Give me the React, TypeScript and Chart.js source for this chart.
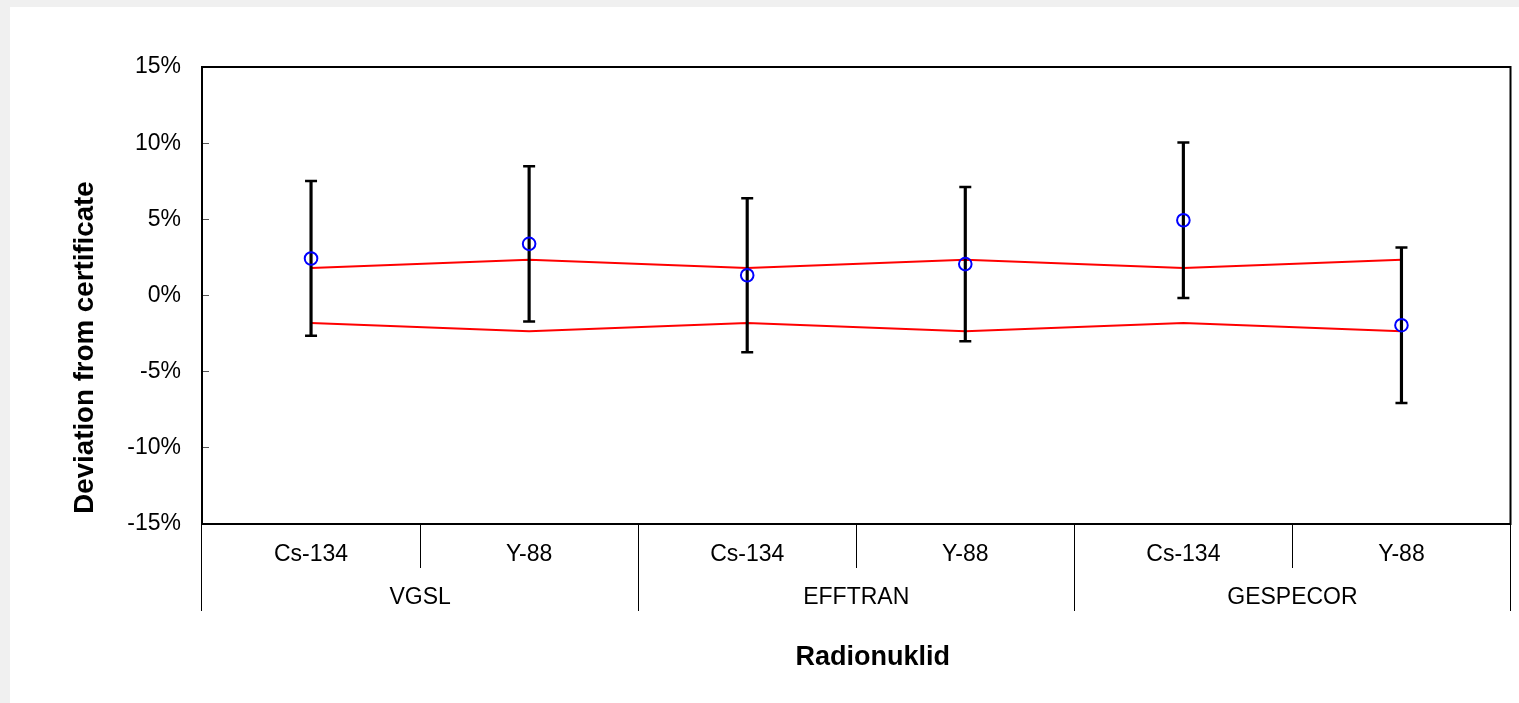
import React, { useEffect, useRef } from 'react';
import { Chart, registerables } from 'chart.js';

Chart.register(...registerables);

// ---- data ----
const methods = ['VGSL', 'EFFTRAN', 'GESPECOR'];
const nuclides = ['Cs-134', 'Y-88', 'Cs-134', 'Y-88', 'Cs-134', 'Y-88'];
const deviation = [2.43, 3.39, 1.33, 2.06, 4.94, -1.95];
const uncertainty = [5.08, 5.1, 5.06, 5.07, 5.1, 5.1];
const limitUpper = [1.8, 2.35, 1.8, 2.35, 1.8, 2.35];
const limitLower = [-1.8, -2.35, -1.8, -2.35, -1.8, -2.35];
const yMin = -15;
const yMax = 15;
const yStep = 5;
const yTitle = 'Deviation from certificate';
const xTitle = 'Radionuklid';

const FONT = '"Liberation Sans", Arial, Helvetica, sans-serif';

const framePlugin = {
  id: 'frameAndTitles',
  afterDraw(chart: any) {
    const { ctx, chartArea: a } = chart;
    ctx.save();
    ctx.strokeStyle = '#000';
    ctx.lineWidth = 2;
    ctx.strokeRect(a.left, a.top, a.right - a.left, a.bottom - a.top);
    ctx.fillStyle = '#000';
    ctx.textAlign = 'center';
    ctx.textBaseline = 'alphabetic';
    ctx.font = `bold 27px ${FONT}`;
    ctx.fillText(xTitle, (a.left + a.right) / 2 + 16.5, a.bottom + 141);
    ctx.font = `bold 27.7px ${FONT}`;
    ctx.translate(a.left - 108.7, (a.top + a.bottom) / 2 + 52);
    ctx.rotate(-Math.PI / 2);
    ctx.fillText(yTitle, 0, 0);
    ctx.restore();
  },
};

export default function App() {
  const ref = useRef<HTMLCanvasElement | null>(null);

  useEffect(() => {
    if (!ref.current) return;
    Chart.defaults.font.family = FONT;
    Chart.defaults.color = '#000';

    const bars = deviation.map((v, i) => [v - uncertainty[i], v + uncertainty[i]]);
    const highs = deviation.map((v, i) => v + uncertainty[i]);
    const lows = deviation.map((v, i) => v - uncertainty[i]);

    const chart = new Chart(ref.current, {
      type: 'bar',
      data: {
        labels: nuclides,
        datasets: [
          {
            type: 'line',
            data: limitUpper,
            xAxisID: 'x',
            borderColor: '#ff0000',
            borderWidth: 2,
            pointRadius: 0,
            tension: 0,
            fill: false,
            order: 5,
          } as any,
          {
            type: 'line',
            data: limitLower,
            xAxisID: 'x',
            borderColor: '#ff0000',
            borderWidth: 2,
            pointRadius: 0,
            tension: 0,
            fill: false,
            order: 5,
          } as any,
          {
            type: 'bar',
            data: bars,
            xAxisID: 'x',
            backgroundColor: '#000',
            borderWidth: 0,
            barThickness: 2.5,
            grouped: false,
            order: 4,
          } as any,
          {
            type: 'line',
            data: highs,
            xAxisID: 'x',
            showLine: false,
            pointStyle: 'line',
            pointRadius: 6,
            pointBorderColor: '#000',
            pointBorderWidth: 2.5,
            order: 3,
          } as any,
          {
            type: 'line',
            data: lows,
            xAxisID: 'x',
            showLine: false,
            pointStyle: 'line',
            pointRadius: 6,
            pointBorderColor: '#000',
            pointBorderWidth: 2.5,
            order: 3,
          } as any,
          {
            type: 'line',
            data: deviation,
            xAxisID: 'x',
            showLine: false,
            pointStyle: 'circle',
            pointRadius: 6.3,
            pointBorderColor: '#0000ff',
            pointBackgroundColor: 'rgba(0,0,0,0)',
            pointBorderWidth: 2,
            order: 1,
          } as any,
        ],
      },
      options: {
        responsive: false,
        animation: false,
        events: [],
        layout: { padding: { top: 60, right: 8, bottom: 92, left: 0 } },
        plugins: {
          legend: { display: false },
          tooltip: { enabled: false },
          title: { display: false },
        },
        scales: {
          x: {
            type: 'category',
            position: 'bottom',
            offset: true,
            weight: 0,
            grid: {
              offset: true,
              drawOnChartArea: false,
              drawTicks: true,
              tickLength: 44,
              color: '#000',
              tickColor: '#000',
              lineWidth: 1,
            },
            border: { display: false },
            ticks: {
              font: { size: 23 },
              color: '#000',
              padding: -27,
              autoSkip: false,
              maxRotation: 0,
              minRotation: 0,
            },
            afterFit: (s: any) => {
              s.height = 44;
            },
          },
          x2: {
            type: 'category',
            labels: methods,
            position: 'bottom',
            offset: true,
            bounds: 'ticks',
            weight: 1,
            grid: {
              offset: true,
              drawOnChartArea: false,
              drawTicks: true,
              tickLength: 43,
              color: '#000',
              tickColor: '#000',
              lineWidth: 1,
            },
            border: { display: false },
            ticks: {
              font: { size: 23 },
              color: '#000',
              padding: -27,
              autoSkip: false,
              maxRotation: 0,
              minRotation: 0,
            },
            afterFit: (s: any) => {
              s.height = 43;
            },
          },
          y: {
            type: 'linear',
            min: yMin,
            max: yMax,
            ticks: {
              stepSize: yStep,
              callback: (v: any) => `${v}%`,
              font: { size: 23 },
              color: '#000',
              padding: 28,
            },
            grid: {
              drawOnChartArea: false,
              drawTicks: true,
              tickLength: -7,
              color: '#555',
              tickColor: '#555',
              lineWidth: 1,
            },
            border: { display: false },
            afterFit: (s: any) => {
              s.width = 192;
            },
          },
        } as any,
      },
      plugins: [framePlugin],
    });

    return () => chart.destroy();
  }, []);

  return (
    <div style={{ position: 'fixed', inset: 0, background: '#f0f0f0' }}>
      <div
        style={{
          position: 'absolute',
          left: 10,
          top: 7,
          width: 1509,
          height: 696,
          background: '#fff',
        }}
      >
        <canvas ref={ref} width={1509} height={696} style={{ display: 'block' }} />
      </div>
    </div>
  );
}
